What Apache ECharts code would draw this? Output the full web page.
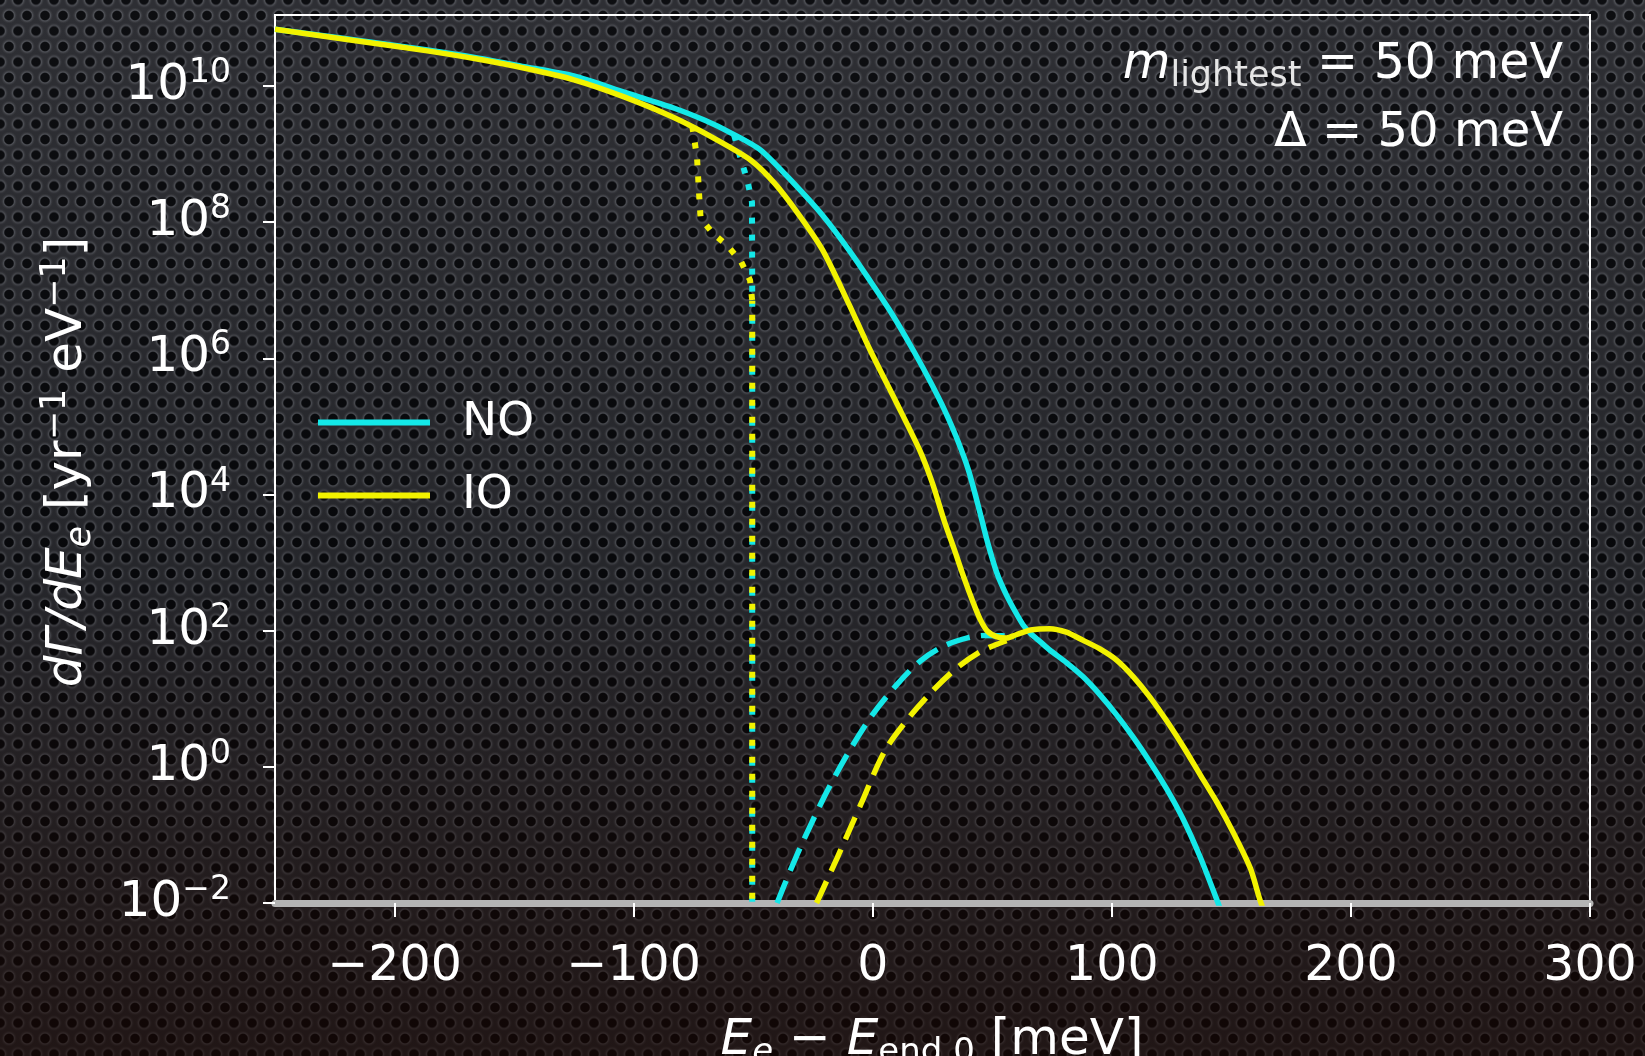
<!DOCTYPE html>
<html>
<head>
<meta charset="utf-8">
<script src="https://cdn.jsdelivr.net/npm/echarts@6/dist/echarts.min.js"></script>
<style>
html, body { margin: 0; padding: 0; width: 1645px; height: 1056px; overflow: hidden; }
body {
  background-color: #2a2b30;
  background-image:
    linear-gradient(to bottom, rgba(255,255,255,0.02) 0%, rgba(0,0,0,0.10) 55%, rgba(25,5,0,0.55) 100%),
    radial-gradient(circle, #08090c 0px, #08090c 4.2px, #4d4f55 5.4px, #34353a 6.8px, rgba(0,0,0,0) 8px),
    radial-gradient(circle, #08090c 0px, #08090c 4.2px, #4d4f55 5.4px, #34353a 6.8px, rgba(0,0,0,0) 8px);
  background-size: 100% 100%, 18px 31px, 18px 31px;
  background-position: 0 0, 0 0, 9px 15.5px;
}
#chart { width: 1645px; height: 1056px; }
</style>
</head>
<body>
<div id="chart"></div>
<script>
// ---- data ----
const xTickValues = [-200, -100, 0, 100, 200, 300];
const yTickValues = [0.01, 1, 100, 1e4, 1e6, 1e8, 1e10];

// NO (normal ordering) total spectrum
const noEnergy = [-250, -208, -187, -166, -145, -125, -104, -83, -70, -60, -47, -33, -21, -10, 0, 8, 17, 24, 30, 35, 40, 44, 48, 52, 56, 60, 63, 66, 70, 74, 81, 88, 95, 102, 109, 116, 123, 130, 137, 144, 150];
const noRate   = [6.8e10, 4.3e10, 3.4e10, 2.6e10, 1.9e10, 1.4e10, 8.1e9, 4.7e9, 3.1e9, 2.1e9, 1.15e9, 3.7e8, 1.26e8, 3.9e7, 1.2e7, 4.5e6, 1.3e6, 4.6e5, 1.75e5, 6.9e4, 2.3e4, 7.1e3, 2.0e3, 690, 330, 180, 120, 91, 69, 52, 34, 21, 11.5, 5.8, 2.7, 1.17, 0.47, 0.166, 0.047, 0.011, 0.003];

// IO (inverted ordering) total spectrum
const ioEnergy = [-250, -208, -187, -166, -145, -125, -104, -83, -65, -51, -41, -31, -21, -10, -1, 10, 20, 25, 30, 34, 38, 42, 45, 48, 52, 56, 60, 66, 74, 81, 88, 95, 102, 109, 116, 123, 130, 137, 144, 151, 158, 162, 168];
const ioRate   = [6.8e10, 4.2e10, 3.3e10, 2.5e10, 1.8e10, 1.23e10, 6.9e9, 3.4e9, 1.6e9, 8.1e8, 3.7e8, 1.3e8, 3.9e7, 6.3e6, 1.3e6, 2.2e5, 4.2e4, 1.45e4, 4.0e3, 1.6e3, 620, 260, 145, 98, 81, 78, 87, 102, 107, 95, 72, 54, 37, 21, 10.5, 4.7, 1.95, 0.76, 0.30, 0.105, 0.032, 0.011, 0.003];

// dashed: signal component
const noSigEnergy = [-40, -35, -30, -20, -10, 0, 10, 20, 30, 40, 47, 54, 60];
const noSigRate   = [0.01, 0.027, 0.069, 0.38, 1.66, 5.9, 16, 36, 60, 79, 85, 84, 80];
const ioSigEnergy = [-23.5, -15, -5, 5, 15, 25, 35, 45, 52, 56];
const ioSigRate   = [0.01, 0.045, 0.28, 1.7, 5.2, 13, 28, 49, 63, 71];

// dotted: spectrum without smearing (upper parts)
const noDotEnergy = [-58, -55, -52.5, -50.5, -50.4];
const noDotRate   = [1.9e9, 8e8, 4.2e8, 1.95e8, 7e6];
const ioDotEnergy = [-75.5, -73.5, -72.6, -72, -67, -61, -55, -51.3, -50.4];
const ioDotRate   = [2.6e9, 9e8, 2.5e8, 1.15e8, 6.9e7, 4.6e7, 2.6e7, 1.4e7, 7e6];
// dotted: common vertical drop at the shifted endpoint
const dropEnergy = [-50.4, -50.4];
const dropRate   = [7e6, 1e-3];

const legendNames = ['NO', 'IO'];
// -------------------------------------

const CYAN = '#14e8e8';
const YELLOW = '#f2f200';
const FONT = 'DejaVu Sans';

function zip(xs, ys) { return xs.map((x, i) => [x, ys[i]]); }

const supMap = {'0':'0','1':'1','2':'2','3':'3','4':'4','5':'5','6':'6','7':'7','8':'8','9':'9','-':'\u2212'};

const chart = echarts.init(document.getElementById('chart'), null, {renderer: 'canvas'});

const option = {
  backgroundColor: 'transparent',
  animation: false,
  textStyle: { fontFamily: FONT },
  grid: {
    left: 275, right: 55, top: 15, bottom: 153,
    show: true, borderColor: '#ffffff', borderWidth: 2, backgroundColor: 'transparent'
  },
  legend: {
    data: legendNames,
    orient: 'vertical',
    left: 313, top: 394,
    icon: 'rect',
    itemWidth: 112, itemHeight: 6,
    itemGap: 26,
    textStyle: { color: '#ffffff', fontSize: 47, fontFamily: FONT, lineHeight: 46, padding: [0, 0, 0, 27] }
  },
  xAxis: {
    type: 'value',
    min: -250, max: 300,
    axisLine: { show: true, onZero: false, lineStyle: { color: '#b4b4b4', width: 7 } },
    axisTick: { show: true, length: 14, lineStyle: { color: '#ffffff', width: 2 }, customValues: xTickValues },
    axisLabel: {
      color: '#ffffff', fontSize: 49, fontFamily: FONT, margin: 40,
      customValues: xTickValues,
      formatter: function (v) { return v < 0 ? '\u2212' + Math.abs(v) : String(v); }
    },
    splitLine: { show: false }
  },
  yAxis: {
    type: 'log', logBase: 10,
    min: 0.01, max: 1.1e11,
    axisLine: { show: true, onZero: false, lineStyle: { color: '#ffffff', width: 2 } },
    axisTick: { show: true, length: 12, lineStyle: { color: '#ffffff', width: 2 }, customValues: yTickValues },
    axisLabel: {
      color: '#ffffff', margin: 44,
      customValues: yTickValues,
      formatter: function (v) {
        const e = Math.round(Math.log10(v));
        const s = String(e).split('').map(c => supMap[c]).join('');
        return '{b|10}{s|' + s + '}';
      },
      rich: {
        b: { fontSize: 50, fontFamily: FONT, color: '#ffffff', lineHeight: 58 },
        s: { fontSize: 33, fontFamily: FONT, color: '#ffffff', lineHeight: 42, verticalAlign: 'top' }
      }
    },
    splitLine: { show: false },
    minorTick: { show: false }
  },
  graphic: [
    {
      type: 'text', x: 1563, y: 65,
      style: {
        text: '{i|m}{s|lightest}{n| = 50 meV}',
        align: 'right', verticalAlign: 'middle', fill: '#ffffff',
        rich: {
          i: { fontSize: 49, fontFamily: FONT, fontStyle: 'italic', fill: '#ffffff', lineHeight: 58 },
          s: { fontSize: 35, fontFamily: FONT, fill: '#e6e6e6', lineHeight: 32, verticalAlign: 'bottom' },
          n: { fontSize: 49, fontFamily: FONT, fill: '#ffffff', lineHeight: 58 }
        }
      }
    },
    {
      type: 'text', x: 1563, y: 134,
      style: {
        text: '\u0394 = 50 meV',
        align: 'right', verticalAlign: 'middle', fill: '#ffffff',
        fontSize: 48, fontFamily: FONT
      }
    },
    {
      type: 'text', x: 932, y: 1041,
      style: {
        text: '{i|E}{si|e}{n| \u2212 }{i|E}{s|end,0}{n| [meV]}',
        align: 'center', verticalAlign: 'middle', fill: '#ffffff',
        rich: {
          i: { fontSize: 50, fontFamily: FONT, fontStyle: 'italic', fill: '#ffffff', lineHeight: 58 },
          si: { fontSize: 34, fontFamily: FONT, fontStyle: 'italic', fill: '#ffffff', lineHeight: 32, verticalAlign: 'bottom' },
          s: { fontSize: 34, fontFamily: FONT, fill: '#ffffff', lineHeight: 32, verticalAlign: 'bottom' },
          n: { fontSize: 50, fontFamily: FONT, fill: '#ffffff', lineHeight: 58 }
        }
      }
    },
    {
      type: 'text', x: 68, y: 462, rotation: Math.PI / 2,
      style: {
        text: '{i|d\u0393/dE}{si|e}{n| [yr}{p|\u22121}{n| eV}{p|\u22121}{n|]}',
        align: 'center', verticalAlign: 'middle', fill: '#ffffff',
        rich: {
          i: { fontSize: 50, fontFamily: FONT, fontStyle: 'italic', fill: '#ffffff', lineHeight: 60 },
          si: { fontSize: 35, fontFamily: FONT, fontStyle: 'italic', fill: '#ffffff', lineHeight: 32, verticalAlign: 'bottom' },
          n: { fontSize: 50, fontFamily: FONT, fill: '#ffffff', lineHeight: 60 },
          p: { fontSize: 35, fontFamily: FONT, fill: '#ffffff', lineHeight: 44, verticalAlign: 'top' }
        }
      }
    }
  ],
  series: [
    {
      name: 'NO', type: 'line', data: zip(noEnergy, noRate), showSymbol: false, symbol: 'none',
      smooth: 0.25, lineStyle: { color: CYAN, width: 5.5 }, itemStyle: { color: CYAN }, z: 3
    },
    {
      name: 'IO', type: 'line', data: zip(ioEnergy, ioRate), showSymbol: false, symbol: 'none',
      smooth: 0.25, lineStyle: { color: YELLOW, width: 5.5 }, itemStyle: { color: YELLOW }, z: 4
    },
    {
      name: 'NO signal', type: 'line', data: zip(noSigEnergy, noSigRate), showSymbol: false, symbol: 'none',
      smooth: 0.3, lineStyle: { color: CYAN, width: 5.5, type: [24, 11] }, z: 2
    },
    {
      name: 'IO signal', type: 'line', data: zip(ioSigEnergy, ioSigRate), showSymbol: false, symbol: 'none',
      smooth: 0.3, lineStyle: { color: YELLOW, width: 5.5, type: [24, 11] }, z: 2
    },
    {
      name: 'NO unsmeared', type: 'line', data: zip(noDotEnergy, noDotRate), showSymbol: false, symbol: 'none',
      smooth: false, lineStyle: { color: CYAN, width: 6, type: [6, 11] }, z: 2
    },
    {
      name: 'IO unsmeared', type: 'line', data: zip(ioDotEnergy, ioDotRate), showSymbol: false, symbol: 'none',
      smooth: false, lineStyle: { color: YELLOW, width: 6, type: [6, 11] }, z: 2
    },
    {
      name: 'NO drop', type: 'line', data: zip(dropEnergy, dropRate), showSymbol: false, symbol: 'none',
      smooth: false, lineStyle: { color: CYAN, width: 6, type: [6, 11] }, z: 2
    },
    {
      name: 'IO drop', type: 'line', data: zip(dropEnergy, dropRate), showSymbol: false, symbol: 'none',
      smooth: false, lineStyle: { color: YELLOW, width: 6, type: [6, 11], dashOffset: 3 }, z: 2
    }
  ]
};

chart.setOption(option);
</script>
</body>
</html>
